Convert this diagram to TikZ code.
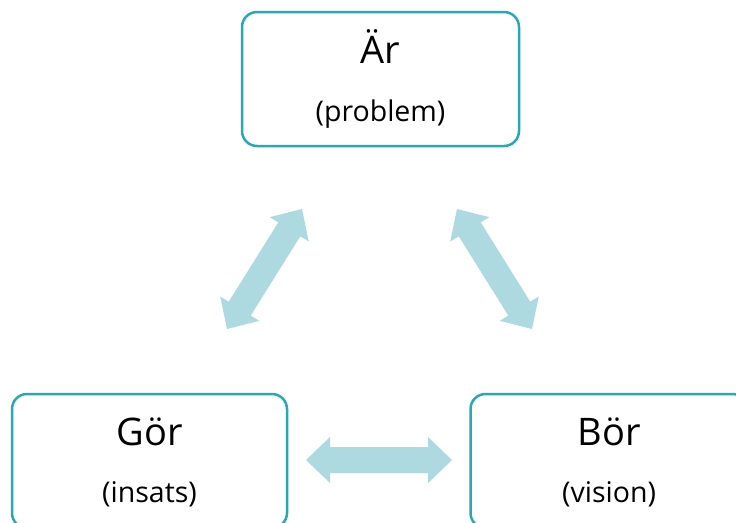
\documentclass[tikz,border=0pt]{standalone}
\usepackage{fontspec}
\setmainfont{Open Sans}
\usetikzlibrary{calc}
\definecolor{boxline}{RGB}{38,168,182}
\definecolor{arrowfill}{RGB}{173,218,224}
\tikzset{
  card/.style={draw=boxline, line width=2.5pt, rounded corners=15pt, fill=white,
    minimum width=277pt, minimum height=134pt, inner sep=0pt},
  bigtxt/.style={anchor=base, inner sep=0pt, font=\fontsize{38}{38}\selectfont},
  smalltxt/.style={anchor=base, inner sep=0pt, font=\fontsize{28.5}{28.5}\selectfont},
}
\newcommand\dblarr[2]{\fill[arrowfill] (#1)
  -- ($(#1)!24pt!(#2)!23pt!90:(#2)$) -- ($(#1)!24pt!(#2)!13pt!90:(#2)$)
  -- ($(#2)!24pt!(#1)!13pt!-90:(#1)$) -- ($(#2)!24pt!(#1)!23pt!-90:(#1)$)
  -- (#2)
  -- ($(#2)!24pt!(#1)!23pt!90:(#1)$) -- ($(#2)!24pt!(#1)!13pt!90:(#1)$)
  -- ($(#1)!24pt!(#2)!13pt!-90:(#2)$) -- ($(#1)!24pt!(#2)!23pt!-90:(#2)$)
  -- cycle;}
\begin{document}
\begin{tikzpicture}[x=1pt,y=-1pt]
\useasboundingbox (0,0) rectangle (736,522);
\clip (0,0) rectangle (736,522);
\fill[white] (0,0) rectangle (736,522);
% boxes
\node[card] (ar) at (380.5,79) {};
\node[card, minimum width=275pt] (gor) at (149.5,461) {};
\node[card] (bor) at (609,461) {};
% texts
\node[bigtxt] (artxt) at (380.5,63) {Är};
\node[smalltxt] (arsub) at (380.5,121) {(problem)};
\node[bigtxt] (gortxt) at (149.5,445) {Gör};
\node[smalltxt] (gorsub) at (149.5,502) {(insats)};
\node[bigtxt] (bortxt) at (609,445) {Bör};
\node[smalltxt] (borsub) at (609,502) {(vision)};
% arrow ends
\coordinate (l1) at (302,209);
\coordinate (l2) at (227,329);
\coordinate (r1) at (457,209);
\coordinate (r2) at (532,329);
\coordinate (h1) at (306,460);
\coordinate (h2) at (452,460);
\dblarr{l1}{l2}
\dblarr{r1}{r2}
\dblarr{h1}{h2}
\end{tikzpicture}
\end{document}
